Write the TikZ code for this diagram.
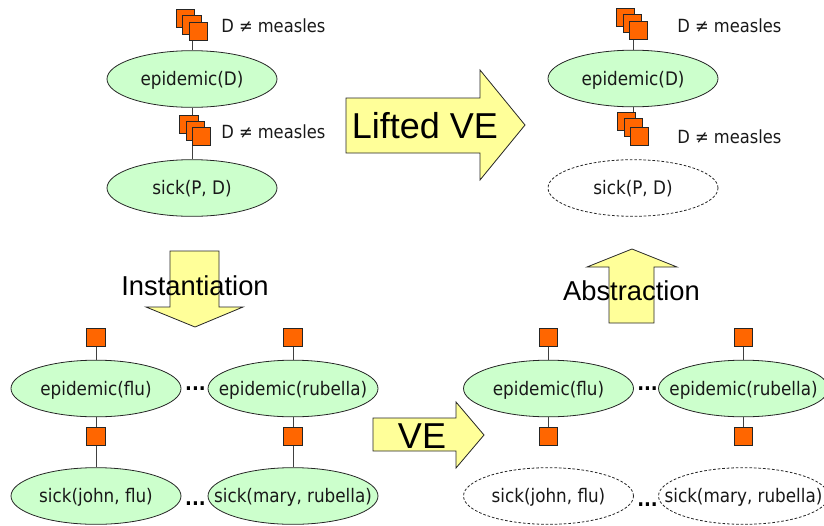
\documentclass[tikz,border=0pt]{standalone}
\usepackage{fontspec}
\setmainfont{DejaVu Sans Condensed}
\newfontfamily\arialfont{Liberation Sans}
\usetikzlibrary{shapes.geometric}
\definecolor{ellgreen}{HTML}{CCFFCC}
\definecolor{factororange}{HTML}{FF6600}
\definecolor{arrowyellow}{HTML}{FFFF99}
\newcommand{\vartext}[1]{\raisebox{-5pt}[0pt][0pt]{\makebox[0pt][c]{#1}}}
\tikzset{
  x=0.75pt,y=-0.75pt,
  varnode/.style={ellipse,draw=black!85,line width=0.6pt,fill=ellgreen,minimum width=127.5pt,minimum height=42.5pt,inner sep=0pt,font=\fontsize{14pt}{15pt}\selectfont,text=black!90},
  hidnode/.style={varnode,fill=white,dashed,dash pattern=on 2pt off 1.4pt},
  factor/.style={rectangle,draw=black!85,line width=0.7pt,fill=factororange,minimum size=14pt,inner sep=0pt},
  conn/.style={draw=black!75,line width=0.7pt},
  constraint/.style={font=\fontsize{13.6pt}{15pt}\selectfont,text=black!90,inner sep=0pt},
  bigarrow/.style={draw=black!85,line width=0.6pt,fill=arrowyellow,line join=miter},
  arrowtext/.style={font=\arialfont,inner sep=0pt,text=black},
  dotstext/.style={font=\fontsize{15pt}{15pt}\selectfont\bfseries,inner sep=0pt,text=black}
}
\begin{document}
\begin{tikzpicture}
\useasboundingbox (0,0) rectangle (824,525);
% --- top left
\node[varnode] (tlE) at (192,79) {\vartext{epidemic(D)}};
\node[varnode] (tlS) at (192,188) {\vartext{sick(P, D)}};
\coordinate (tlTop) at (192.5,30);
\draw[conn] (tlTop) -- (tlE.north -| tlTop);
\draw[conn] (tlE) -- (tlS);
\node[factor] (tla1) at (185.5,18.5) {};
\node[factor] (tla2) at (192,25) {};
\node[factor] (tla3) at (198.5,31.5) {};
\node[factor] (tlb1) at (189,124.5) {};
\node[factor] (tlb2) at (195.5,131) {};
\node[factor] (tlb3) at (201.5,136.5) {};
\node[constraint,anchor=west] (tlc1) at (221,26) {D ≠ measles};
\node[constraint,anchor=west] (tlc2) at (221,132) {D ≠ measles};
% --- top right
\node[varnode] (trE) at (633,78.5) {\vartext{epidemic(D)}};
\node[hidnode] (trS) at (633,188) {\vartext{sick(P, D)}};
\coordinate (trTop) at (633,30);
\coordinate (trBot) at (633,120);
\draw[conn] (trTop) -- (trE);
\draw[conn] (trE) -- (trBot);
\node[factor] (tra1) at (625.5,17.5) {};
\node[factor] (tra2) at (632.5,23.5) {};
\node[factor] (tra3) at (638.5,30.5) {};
\node[factor] (trb1) at (626.5,121.5) {};
\node[factor] (trb2) at (633.5,127.5) {};
\node[factor] (trb3) at (639.5,136.5) {};
\node[constraint,anchor=west] (trc1) at (677,26) {D ≠ measles};
\node[constraint,anchor=west] (trc2) at (677,137) {D ≠ measles};
% --- bottom left
\node[varnode] (blE1) at (96,388.5) {\vartext{epidemic(flu)}};
\node[varnode] (blE2) at (293,388.5) {\vartext{epidemic(rubella)}};
\node[varnode] (blS1) at (96,496) {\vartext{sick(john, flu)}};
\node[varnode] (blS2) at (293,496) {\vartext{sick(mary, rubella)}};
\node[factor] (blf1) at (96,337.5) {};
\node[factor] (blf2) at (293,337.5) {};
\node[factor] (blf3) at (96,436.5) {};
\node[factor] (blf4) at (293,436.5) {};
\draw[conn] (blf1) -- (blE1);
\draw[conn] (blf2) -- (blE2);
\draw[conn] (blE1) -- (blf3);
\draw[conn] (blE2) -- (blf4);
\draw[conn] (blf3) -- (blS1);
\draw[conn] (blf4) -- (blS2);
\node[dotstext] (bld1) at (195.5,389) {...};
\node[dotstext] (bld2) at (195.5,504) {...};
% --- bottom right
\node[varnode] (brE1) at (548.5,388.5) {\vartext{epidemic(flu)}};
\node[varnode] (brE2) at (743.5,388.5) {\vartext{epidemic(rubella)}};
\node[hidnode] (brS1) at (548.5,496) {\vartext{sick(john, flu)}};
\node[hidnode] (brS2) at (743.5,496) {\vartext{sick(mary, rubella)}};
\node[factor] (brf1) at (548.5,337.5) {};
\node[factor] (brf2) at (743.5,337.5) {};
\node[factor] (brf3) at (548.5,436.5) {};
\node[factor] (brf4) at (743.5,436.5) {};
\draw[conn] (brf1) -- (brE1);
\draw[conn] (brf2) -- (brE2);
\draw[conn] (brE1) -- (brf3);
\draw[conn] (brE2) -- (brf4);
\node[dotstext] (brd1) at (647.5,389) {...};
\node[dotstext] (brd2) at (647.5,505) {...};
% --- big arrows
\draw[bigarrow] (346,98) -- (480,98) -- (480,70) -- (525,125) -- (480,180) -- (480,153) -- (346,153) -- cycle;
\node[arrowtext,font=\arialfont\fontsize{27pt}{30pt}\selectfont] (lifted) at (425,126) {Lifted VE};
\draw[bigarrow] (170,251) -- (219,251) -- (219,307) -- (243,307) -- (195,327) -- (146,307) -- (170,307) -- cycle;
\node[arrowtext,font=\arialfont\fontsize{20.5pt}{24pt}\selectfont] (inst) at (195,286) {Instantiation};
\draw[bigarrow] (609,323) -- (654,323) -- (654,267) -- (677,267) -- (632,249) -- (587,267) -- (609,267) -- cycle;
\node[arrowtext,font=\arialfont\fontsize{20.5pt}{24pt}\selectfont] (abst) at (631.5,291) {Abstraction};
\draw[bigarrow] (373,418) -- (456,418) -- (456,402) -- (484,435) -- (456,468) -- (456,451) -- (373,451) -- cycle;
\node[arrowtext,font=\arialfont\fontsize{27pt}{30pt}\selectfont] (ve) at (422,436) {VE};
\end{tikzpicture}
\end{document}
